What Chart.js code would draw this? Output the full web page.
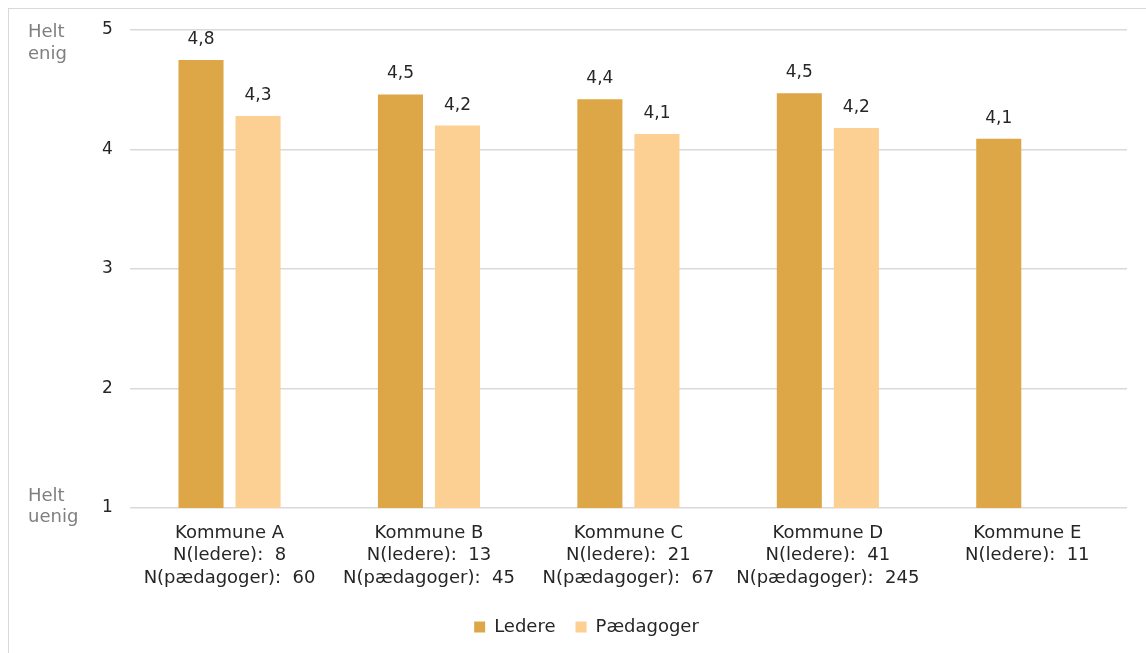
<!DOCTYPE html>
<html>
<head>
<meta charset="utf-8">
<script src="https://cdn.jsdelivr.net/npm/chart.js@4"></script>
<style>
  html, body { margin: 0; padding: 0; background: #fff; overflow: hidden; }
  #frame {
    position: absolute; left: 8px; top: 8px; width: 1200px; height: 700px;
    border: 1px solid #d9d9d9; box-sizing: border-box;
  }
  #wrap { position: absolute; left: 0; top: 0; width: 1146px; height: 653px; }
</style>
</head>
<body>
<div id="frame"></div>
<div id="wrap"><canvas id="chart" width="1146" height="653"></canvas></div>
<script>
const kommuner = [
  ["Kommune A", "N(ledere):  8", "N(pædagoger):  60"],
  ["Kommune B", "N(ledere):  13", "N(pædagoger):  45"],
  ["Kommune C", "N(ledere):  21", "N(pædagoger):  67"],
  ["Kommune D", "N(ledere):  41", "N(pædagoger):  245"],
  ["Kommune E", "N(ledere):  11"],
];
const ledere = [4.75, 4.46, 4.42, 4.47, 4.09];
const paedagoger = [4.28, 4.2, 4.13, 4.18, null];
const yTicks = [1, 2, 3, 4, 5];

const FONT = "'DejaVu Sans', Verdana, sans-serif";

const valueLabels = {
  id: "valueLabels",
  afterDatasetsDraw(chart) {
    const ctx = chart.ctx;
    ctx.save();
    ctx.font = "17px " + FONT;
    ctx.fillStyle = "#262626";
    ctx.textAlign = "center";
    ctx.textBaseline = "bottom";
    chart.data.datasets.forEach((ds, i) => {
      chart.getDatasetMeta(i).data.forEach((bar, j) => {
        const v = ds.data[j];
        if (v == null) return;
        ctx.fillText(v.toFixed(1).replace(".", ","), bar.x, bar.y - 12);
      });
    });
    ctx.restore();
  },
};

const endLabels = {
  id: "endLabels",
  afterDraw(chart) {
    const ctx = chart.ctx;
    const y = chart.scales.y;
    const top = y.getPixelForValue(5);
    const bottom = y.getPixelForValue(1);
    ctx.save();
    ctx.font = "18px " + FONT;
    ctx.fillStyle = "#7f7f7f";
    ctx.textAlign = "left";
    ctx.textBaseline = "middle";
    ctx.fillText("Helt", 28, top + 2);
    ctx.fillText("enig", 28, top + 24);
    ctx.fillText("Helt", 28, bottom - 12);
    ctx.fillText("uenig", 28, bottom + 9);
    ctx.restore();
  },
};

new Chart(document.getElementById("chart").getContext("2d"), {
  type: "bar",
  data: {
    labels: kommuner,
    datasets: [
      {
        label: "Ledere",
        data: ledere,
        backgroundColor: "#dda646",
        barPercentage: 0.79,
        categoryPercentage: 0.572,
      },
      {
        label: "Pædagoger",
        data: paedagoger,
        backgroundColor: "#fccf93",
        barPercentage: 0.79,
        categoryPercentage: 0.572,
      },
    ],
  },
  options: {
    responsive: false,
    animation: false,
    layout: { padding: { top: 30, left: 46, right: 19, bottom: 7 } },
    plugins: {
      legend: {
        position: "bottom",
        labels: {
          boxWidth: 11,
          boxHeight: 11,
          padding: 20,
          color: "#262626",
          font: { family: FONT, size: 18 },
        },
      },
      tooltip: { enabled: false },
    },
    scales: {
      x: {
        grid: { display: false },
        border: { display: false },
        afterFit: (axis) => {
          axis.height += 2.5;
        },
        ticks: {
          color: "#262626",
          padding: 6,
          maxRotation: 0,
          font: { family: FONT, size: 18, lineHeight: 1.25 },
        },
      },
      y: {
        min: 1,
        max: 5,
        afterBuildTicks: (axis) => {
          axis.ticks = yTicks.map((v) => ({ value: v }));
        },
        afterFit: (axis) => {
          axis.width += 39;
        },
        grid: { color: "#d9d9d9", lineWidth: 1.5, drawTicks: false },
        border: { display: false },
        ticks: {
          color: "#262626",
          padding: 17,
          font: { family: FONT, size: 17 },
        },
      },
    },
  },
  plugins: [valueLabels, endLabels],
});
</script>
</body>
</html>
